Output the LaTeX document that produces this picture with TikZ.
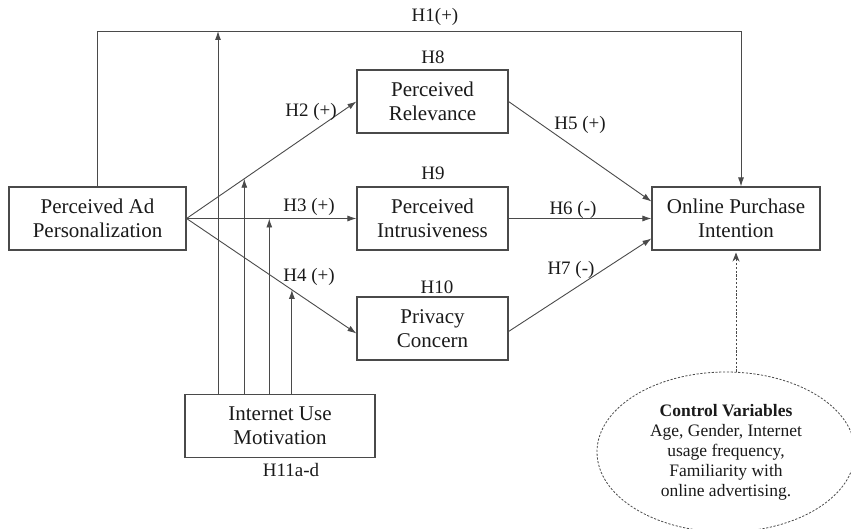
\documentclass[tikz,border=0pt]{standalone}
\usepackage{fontspec}
\setmainfont{Liberation Serif}
\usetikzlibrary{arrows.meta,shapes.geometric}
\definecolor{linec}{HTML}{4A4A4A}
\definecolor{textc}{HTML}{1A1A1A}
\tikzset{
  box/.style={draw=linec, line width=1.1pt, align=center, inner sep=0pt,
    minimum height=63pt, text=textc, font=\fontsize{21}{24}\selectfont},
  lbl/.style={text=textc, inner sep=0pt, font=\fontsize{19}{22}\selectfont},
  arr/.style={draw=linec, line width=0.9pt, -{Latex[length=9pt,width=6pt]}},
}
\begin{document}
\begin{tikzpicture}[x=1pt,y=-1pt]
\useasboundingbox (0,0) rectangle (851,529);

% constructs
\node[box, minimum width=177pt] (PAP) at (97.5,218.5) {Perceived Ad\\Personalization};
\node[box, minimum width=151pt] (PR) at (432.5,101.5) {Perceived\\Relevance};
\node[box, minimum width=151pt] (PI) at (432.5,218.5) {Perceived\\Intrusiveness};
\node[box, minimum width=151pt] (PC) at (432.5,328.5) {Privacy\\Concern};
\node[box, minimum width=168pt] (OPI) at (736,218.5) {Online Purchase\\Intention};
\node[box, minimum width=190pt] (IUM) at (280,426) {Internet Use\\Motivation};
\node[ellipse, draw=linec, line width=0.8pt, dash pattern=on 2.2pt off 1.6pt,
      minimum width=258pt, minimum height=160pt, inner sep=0pt, align=center,
      text=textc, font=\fontsize{17.5}{20}\selectfont] (CV) at (726,452)
  {\textbf{Control Variables}\\Age, Gender, Internet\\usage frequency,\\Familiarity with\\online advertising.};

% hypothesis tags above boxes
\node[lbl] (h8) at (433,57) {H8};
\node[lbl] (h9) at (433,173) {H9};
\node[lbl] (h10) at (437,287) {H10};
\node[lbl] (h11) at (291,470) {H11a-d};

% direct effect H1
\coordinate (h1r) at (741,31);
\coordinate (m1) at (218,31);
\draw[arr] (PAP.north) |- (h1r) -- (OPI.north -| h1r);
\node[lbl] (l1) at (435,17) {H1(+)};

% paths from personalization
\draw[arr] (PAP.east) -- coordinate[pos=0.34] (m2) (PR.west);
\draw[arr] (PAP.east) -- coordinate[pos=0.487] (m3) (PI.west);
\draw[arr] (PAP.east) -- coordinate[pos=0.62] (m4) ([yshift=-5pt]PC.west);
\node[lbl] (l2) at (311,112) {H2 (+)};
\node[lbl] (l3) at (309,207) {H3 (+)};
\node[lbl] (l4) at (309,277) {H4 (+)};

% paths into purchase intention
\draw[arr] (PR.east) -- ([yshift=17pt]OPI.west);
\draw[arr] (PI.east) -- (OPI.west);
\draw[arr] ([yshift=-3pt]PC.east) -- ([yshift=-20pt]OPI.west);
\node[lbl] (l5) at (580,125) {H5 (+)};
\node[lbl] (l6) at (573,210) {H6 (-)};
\node[lbl] (l7) at (571,270) {H7 (-)};

% moderating arrows from internet use motivation
\draw[arr] (IUM.north -| m1) -- (m1);
\draw[arr] (IUM.north -| m2) -- (m2);
\draw[arr] (IUM.north -| m3) -- (m3);
\draw[arr] (IUM.north -| m4) -- (m4);

% control variables
\draw[draw=linec, line width=0.8pt, dash pattern=on 2.2pt off 1.6pt, shorten >=2pt,
      -{Stealth[length=9pt,width=7pt]}] (OPI.south |- CV.north) -- (OPI.south);
\end{tikzpicture}
\end{document}
